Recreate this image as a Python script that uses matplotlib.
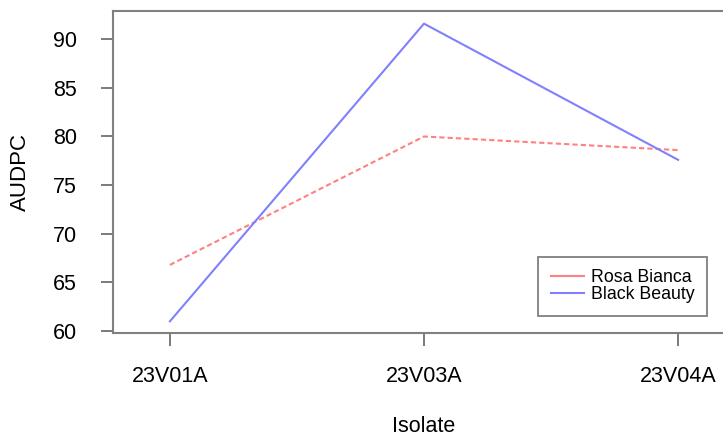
import matplotlib.pyplot as plt

plt.rcParams['font.family'] = ['Liberation Sans', 'DejaVu Sans']

isolates = ['23V01A', '23V03A', '23V04A']
rosa_bianca = [66.8, 80.0, 78.6]
black_beauty = [61.0, 91.6, 77.6]
yticks = [60, 65, 70, 75, 80, 85, 90]

fig = plt.figure(figsize=(7.23, 4.37), dpi=100)
ax = fig.add_axes([113/723, 1 - 333/437, 622/723, 322/437])

xs = range(1, len(isolates) + 1)
ax.plot(xs, rosa_bianca, color='#ff8080', linestyle=(0, (2.5, 1.5)), linewidth=1.5, label='Rosa Bianca')
ax.plot(xs, black_beauty, color='#8080ff', linewidth=1.5, label='Black Beauty')

ax.set_xlim(0.776, 3.224)
ax.set_ylim(59.8, 92.9)
ax.set_xticks(list(xs))
ax.set_xticklabels(isolates, fontsize=15.5)
ax.set_yticks(yticks)
ax.set_yticklabels([str(v) for v in yticks], fontsize=15.5)
ax.tick_params(axis='x', length=9, width=1.3, color='#707070', pad=15)
ax.tick_params(axis='y', length=9, width=1.3, color='#707070', pad=17)
for s in ax.spines.values():
    s.set_color('#808080')
    s.set_linewidth(1.5)

ax.set_xlabel('Isolate', fontsize=15.5, va='center')
ax.xaxis.set_label_coords(0.5, (333 - 426) / 322)
ax.set_ylabel('AUDPC', fontsize=16, va='center')
ax.yaxis.set_label_coords((20 - 113) / 622, 0.5)

leg = ax.legend(loc='lower right', bbox_to_anchor=(0.955, 0.053), fontsize=12.8,
                frameon=True, fancybox=False, handlelength=1.85, borderaxespad=0,
                labelspacing=0.0, borderpad=0.7, handletextpad=0.4)
leg.get_frame().set_edgecolor('#606060')
leg.get_frame().set_linewidth(1.3)
# legend keys are drawn solid in the original
leg.get_lines()[0].set_linestyle('-')

fig.savefig('out.png', dpi=100)
